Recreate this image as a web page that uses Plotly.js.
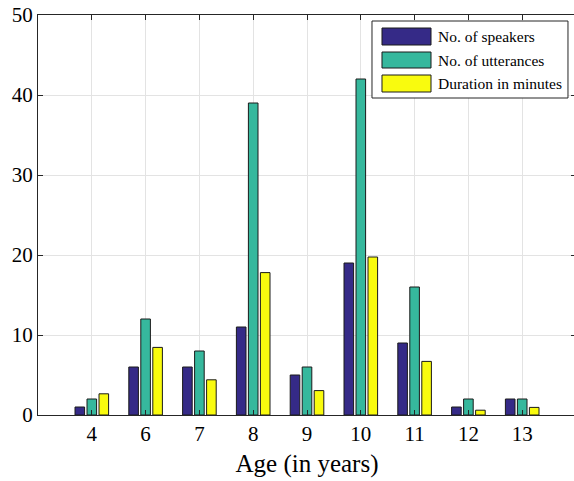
<!DOCTYPE html>
<html>
<head>
<meta charset="utf-8">
<script src="https://cdn.plot.ly/plotly-3.0.1.min.js"></script>
<style>
html,body{margin:0;padding:0;overflow:hidden;background:#fff;width:574px;height:481px;}
#chart{width:580px;height:481px;}
</style>
</head>
<body>
<div id="chart"></div>
<script>
const ages = ['4','6','7','8','9','10','11','12','13'];
const speakers = [1, 6, 6, 11, 5, 19, 9, 1, 2];
const utterances = [2, 12, 8, 39, 6, 42, 16, 2, 2];
const durationMinutes = [2.65, 8.45, 4.4, 17.8, 3.05, 19.75, 6.7, 0.6, 0.95];
const seriesNames = ['No. of speakers', 'No. of utterances', 'Duration in minutes'];
const seriesColors = ['#352A87', '#36B89D', '#F9FB0E'];

const font = '"Liberation Serif"';
const seriesValues = [speakers, utterances, durationMinutes];

const traces = seriesValues.map((vals, i) => ({
  type: 'bar',
  x: ages,
  y: vals,
  name: seriesNames[i],
  marker: {color: seriesColors[i], line: {color: '#1a1a1a', width: 1}},
  showlegend: false,
  hoverinfo: 'x+y'
}));

// custom legend (MATLAB-style large patches)
const shapes = [{
  type: 'rect', xref: 'paper', yref: 'paper',
  x0: 0.6208, x1: 0.9851, y0: 0.7925, y1: 0.985,
  fillcolor: '#ffffff', line: {color: '#262626', width: 1}, layer: 'above'
}];
const annotations = [];
const patchY = [[0.925, 0.9675], [0.8675, 0.9075], [0.8075, 0.85]];
seriesNames.forEach((n, i) => {
  shapes.push({
    type: 'rect', xref: 'paper', yref: 'paper',
    x0: 0.6394, x1: 0.7305, y0: patchY[i][0], y1: patchY[i][1],
    fillcolor: seriesColors[i], line: {color: '#1a1a1a', width: 1}, layer: 'above'
  });
  annotations.push({
    xref: 'paper', yref: 'paper', x: 0.7398, y: (patchY[i][0] + patchY[i][1]) / 2,
    xanchor: 'left', yanchor: 'middle', showarrow: false, text: n,
    font: {family: font, size: 15.5, color: '#000'}
  });
});

const layout = {
  width: 580, height: 481,
  margin: {l: 38, r: 4, t: 15, b: 66},
  paper_bgcolor: '#ffffff', plot_bgcolor: '#ffffff',
  barmode: 'group', bargap: 0.331, bargroupgap: 0.2,
  font: {family: font, size: 21, color: '#000'},
  xaxis: {
    type: 'category', categoryorder: 'array', categoryarray: ages,
    range: [-1, 9],
    showline: true, linecolor: '#262626', linewidth: 1, mirror: 'ticks',
    ticks: 'inside', ticklen: 5, tickcolor: '#262626',
    showgrid: true, gridcolor: '#e3e3e3', gridwidth: 1,
    tickfont: {family: font, size: 21, color: '#000'},
    title: {text: 'Age (in years)', font: {family: font, size: 25, color: '#000'}, standoff: 9},
    zeroline: false, fixedrange: true
  },
  yaxis: {
    range: [0, 50], dtick: 10, tick0: 0,
    showline: true, linecolor: '#262626', linewidth: 1, mirror: 'ticks',
    ticks: 'inside', ticklen: 5, tickcolor: '#262626',
    showgrid: true, gridcolor: '#e3e3e3', gridwidth: 1,
    tickfont: {family: font, size: 21, color: '#000'},
    zeroline: false, fixedrange: true
  },
  shapes: shapes,
  annotations: annotations
};

Plotly.newPlot('chart', traces, layout, {displayModeBar: false, staticPlot: true});
</script>
</body>
</html>
